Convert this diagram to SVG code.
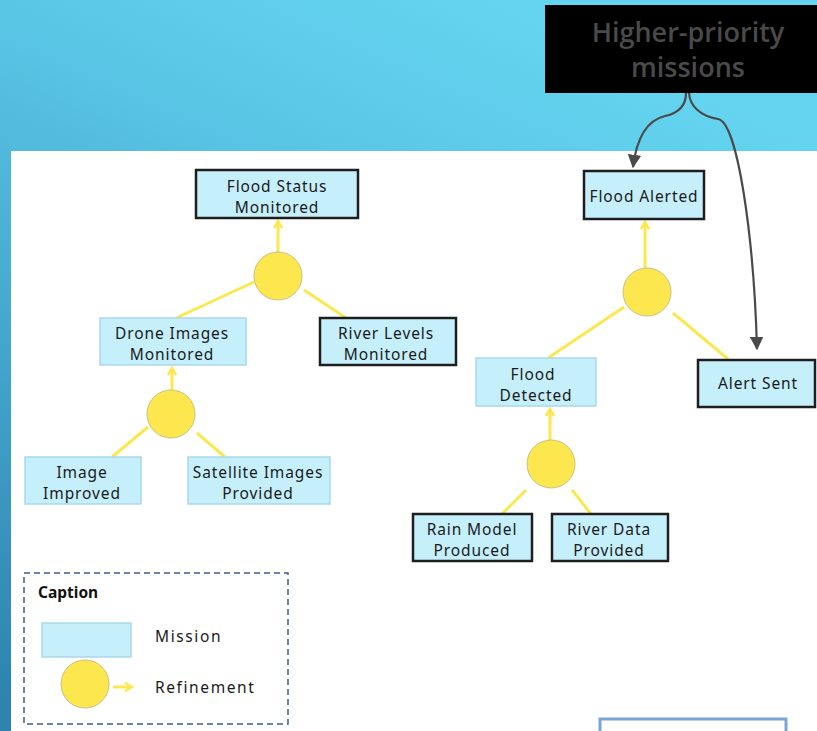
<svg xmlns="http://www.w3.org/2000/svg" width="817" height="731" viewBox="0 0 817 731">
<defs>
<linearGradient id="bg" x1="0.6" y1="0" x2="0.1" y2="1">
<stop offset="0" stop-color="#64d4f0"/>
<stop offset="0.25" stop-color="#5ac6e6"/>
<stop offset="1" stop-color="#2e83b1"/>
</linearGradient>
<marker id="ah" viewBox="0 0 10 10" refX="9" refY="5" markerWidth="6.2" markerHeight="6.2" orient="auto" markerUnits="strokeWidth">
<path d="M0,0 L10,5 L0,10 Z" fill="#4a4a4a"/>
</marker>
<marker id="ya" viewBox="0 0 10 10" refX="8" refY="5" markerWidth="3.4" markerHeight="3.4" orient="auto" markerUnits="strokeWidth">
<path d="M1,1 L8,5 L1,9" fill="none" stroke="#fce84e" stroke-width="2.4"/>
</marker>
</defs>
<style>
.m{fill:#c6effc;stroke:#a9d9ea;stroke-width:1.5}
.md{fill:#c6effc;stroke:#1e1e1e;stroke-width:2.5}
.r{fill:#fce84e;stroke:#cbbf86;stroke-width:1}
.t{font-family:"Noto Sans","Open Sans",sans-serif;font-size:15.5px;fill:#1a1a1a;text-anchor:middle;letter-spacing:0.9px}
.cap{font-family:"Noto Sans","Open Sans",sans-serif;font-size:15.5px;fill:#1a1a1a;letter-spacing:1.6px}
.yl{stroke:#fce84e;stroke-width:3;fill:none}
.ya{stroke:#fce84e;stroke-width:3;fill:none;marker-end:url(#ya)}
.c{stroke:#4a4a4a;stroke-width:2.2;fill:none;marker-end:url(#ah)}
</style>
<rect x="0" y="0" width="817" height="731" fill="url(#bg)"/>
<rect x="11" y="151" width="806" height="580" fill="#ffffff"/>

<g id="higher">
<rect x="545" y="5" width="272" height="88" fill="#000000"/>
<text x="688" y="42" font-family="'Open Sans','Noto Sans',sans-serif" font-size="27" font-weight="600" fill="#4a4a4a" text-anchor="middle">Higher-priority</text>
<text x="688" y="77" font-family="'Open Sans','Noto Sans',sans-serif" font-size="27" font-weight="600" fill="#4a4a4a" text-anchor="middle">missions</text>
</g>

<g id="connectors">
<path class="c" d="M686,93 C686,106 679,113 665,116 C648,120 637,135 633,167"/>
<path class="c" d="M689,93 C690,106 700,116 718,119 C738,122 754,240 757,349"/>
<line class="ya" x1="278" y1="252" x2="278" y2="221"/>
<line class="yl" x1="254" y1="282" x2="176" y2="318"/>
<line class="yl" x1="304" y1="290" x2="346" y2="318"/>
<line class="ya" x1="172" y1="390" x2="172" y2="368"/>
<line class="yl" x1="148" y1="427" x2="112" y2="457"/>
<line class="yl" x1="197" y1="433" x2="225" y2="457"/>
<line class="ya" x1="645" y1="268" x2="645" y2="222"/>
<line class="yl" x1="624" y1="307" x2="548" y2="358"/>
<line class="yl" x1="673" y1="313" x2="728" y2="359"/>
<line class="ya" x1="550" y1="440" x2="550" y2="409"/>
<line class="yl" x1="526" y1="490" x2="502" y2="514"/>
<line class="yl" x1="572" y1="490" x2="591" y2="514"/>
</g>

<g id="flood-status-monitored">
<rect class="md" x="196" y="170" width="162" height="48"/>
<text class="t" x="277" y="192">Flood Status</text>
<text class="t" x="277" y="213">Monitored</text>
</g>
<g id="ref1"><circle class="r" cx="278" cy="276" r="24"/></g>
<g id="drone-images-monitored">
<rect class="m" x="100" y="318" width="146" height="47"/>
<text class="t" x="172" y="339">Drone Images</text>
<text class="t" x="172" y="360">Monitored</text>
</g>
<g id="river-levels-monitored">
<rect class="md" x="320" y="318" width="136" height="47"/>
<text class="t" x="386" y="339">River Levels</text>
<text class="t" x="386" y="360">Monitored</text>
</g>
<g id="ref2"><circle class="r" cx="171" cy="414" r="24"/></g>
<g id="image-improved">
<rect class="m" x="25" y="457" width="116" height="47"/>
<text class="t" x="82" y="478">Image</text>
<text class="t" x="82" y="499">Improved</text>
</g>
<g id="satellite-images-provided">
<rect class="m" x="188" y="457" width="142" height="47"/>
<text class="t" x="258" y="478">Satellite Images</text>
<text class="t" x="258" y="499">Provided</text>
</g>

<g id="flood-alerted">
<rect class="md" x="584" y="171" width="120" height="48"/>
<text class="t" x="644" y="202">Flood Alerted</text>
</g>
<g id="ref3"><circle class="r" cx="647" cy="292" r="24"/></g>
<g id="flood-detected">
<rect class="m" x="476" y="358" width="120" height="48"/>
<text class="t" x="533" y="380">Flood</text>
<text class="t" x="536" y="401">Detected</text>
</g>
<g id="alert-sent">
<rect class="md" x="698" y="360" width="117" height="47"/>
<text class="t" x="758" y="389">Alert Sent</text>
</g>
<g id="ref4"><circle class="r" cx="551" cy="464" r="24"/></g>
<g id="rain-model-produced">
<rect class="md" x="413" y="514" width="119" height="47"/>
<text class="t" x="472" y="535">Rain Model</text>
<text class="t" x="472" y="556">Produced</text>
</g>
<g id="river-data-provided">
<rect class="md" x="552" y="514" width="116" height="47"/>
<text class="t" x="609" y="535">River Data</text>
<text class="t" x="609" y="556">Provided</text>
</g>

<g id="caption">
<rect x="24" y="573" width="264" height="151" fill="none" stroke="#3b5e8c" stroke-width="1.5" stroke-dasharray="6,4"/>
<text x="38" y="598" font-family="'Noto Sans','Open Sans',sans-serif" font-size="15.5" font-weight="bold" fill="#111">Caption</text>
<rect class="m" x="42" y="623" width="89" height="34"/>
<text class="cap" x="155" y="642">Mission</text>
<circle class="r" cx="85" cy="684" r="24"/>
<line class="ya" x1="113" y1="687" x2="132" y2="687"/>
<text class="cap" x="155" y="693">Refinement</text>
</g>

<g id="partial-box">
<rect x="600" y="719" width="186" height="16" fill="#ffffff" stroke="#7aa5d8" stroke-width="3"/>
</g>
</svg>
